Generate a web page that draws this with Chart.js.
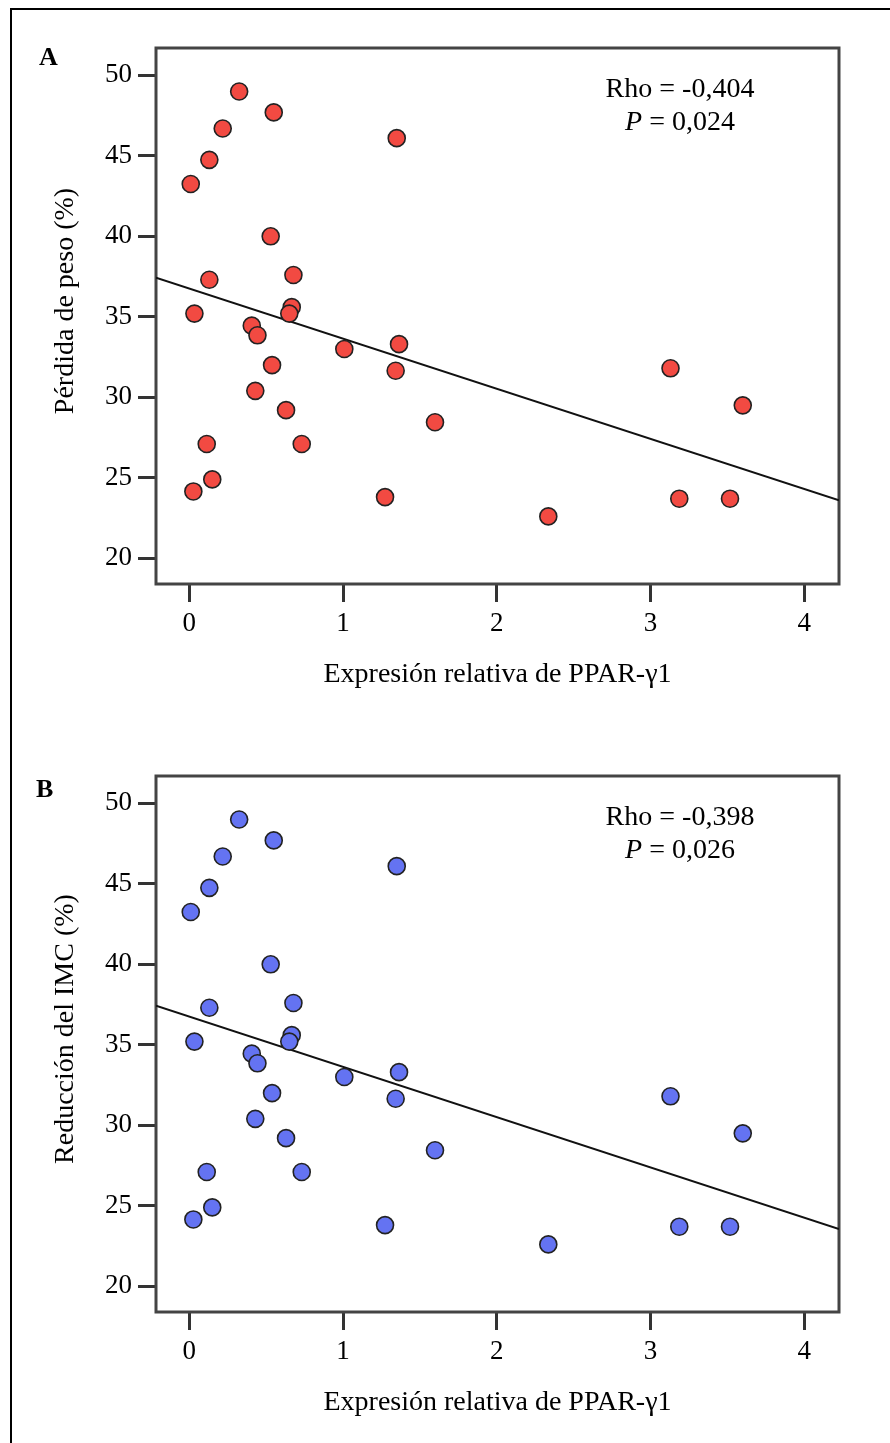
<!DOCTYPE html>
<html>
<head>
<meta charset="utf-8">
<script src="https://cdn.jsdelivr.net/npm/chart.js@4.4.1/dist/chart.umd.min.js"></script>
<style>
  html, body { margin: 0; padding: 0; background: #fff; overflow: hidden; }
  #wrap { position: relative; width: 890px; height: 1443px; overflow: hidden; }
  #frame { position: absolute; left: 10px; top: 8px; width: 900px; height: 1460px;
           border-left: 2px solid #000; border-top: 2px solid #000; }
  canvas { position: absolute; left: 0; }
</style>
</head>
<body>
<div id="wrap">
  <div id="frame"></div>
  <canvas id="chartA" width="890" height="728" style="top:0"></canvas>
  <canvas id="chartB" width="890" height="728" style="top:728px"></canvas>
</div>
<script>
// ejes
const xTicks = [0, 1, 2, 3, 4];
const yTicks = [20, 25, 30, 35, 40, 45, 50];
const xMin = -0.217, xMax = 4.226;
const yMin = 18.4, yMax = 51.7;

// expresion relativa de PPAR-y1 (misma para ambos paneles)
const pparA = [0.324, 0.549, 0.217, 0.130, 0.009, 1.349, 0.529, 0.677, 0.130, 0.666, 0.650,
               0.033, 0.406, 0.443, 1.008, 1.364, 1.342, 0.538, 0.429, 0.629, 1.598, 0.113,
               0.731, 0.149, 0.026, 1.273, 2.335, 3.130, 3.187, 3.517, 3.600];
const pesoA = [49.0, 47.7, 46.7, 44.75, 43.25, 46.1, 40.0, 37.6, 37.3, 35.6, 35.2,
               35.2, 34.45, 33.85, 33.0, 33.3, 31.65, 32.0, 30.4, 29.2, 28.45, 27.1,
               27.1, 24.9, 24.15, 23.8, 22.6, 31.8, 23.7, 23.7, 29.5];

const pparB = [0.324, 0.549, 0.217, 0.130, 0.009, 1.349, 0.529, 0.677, 0.130, 0.666, 0.650,
               0.033, 0.406, 0.443, 1.008, 1.364, 1.342, 0.538, 0.429, 0.629, 1.598, 0.113,
               0.731, 0.149, 0.026, 1.273, 2.335, 3.130, 3.187, 3.517, 3.600];
const imcB  = [49.0, 47.7, 46.7, 44.75, 43.25, 46.1, 40.0, 37.6, 37.3, 35.6, 35.2,
               35.2, 34.45, 33.85, 33.0, 33.3, 31.65, 32.0, 30.4, 29.2, 28.45, 27.1,
               27.1, 24.9, 24.15, 23.8, 22.6, 31.8, 23.7, 23.7, 29.5];

const fitX  = [xMin, xMax];
const fitYA = [37.43, 23.6];
const fitYB = [37.43, 23.55];

const SERIF = '"Liberation Serif", "Times New Roman", serif';
Chart.defaults.font.family = SERIF;
Chart.defaults.color = '#000';

const panelDeco = {
  id: 'panelDeco',
  beforeDatasetsDraw(chart, args, o) {
    const { ctx, chartArea: a } = chart;
    ctx.save();
    ctx.strokeStyle = '#444';
    ctx.lineWidth = 3;
    ctx.strokeRect(a.left, a.top, a.right - a.left, a.bottom - a.top);
    ctx.restore();
  },
  afterDraw(chart, args, o) {
    const ctx = chart.ctx;
    ctx.save();
    ctx.fillStyle = '#000';

    // letra del panel
    ctx.font = 'bold 26px ' + SERIF;
    ctx.textAlign = 'left';
    ctx.textBaseline = 'alphabetic';
    ctx.fillText(o.letter, o.letterX, o.letterY);

    // Rho y P
    ctx.font = '28px ' + SERIF;
    ctx.textAlign = 'center';
    ctx.fillText(o.rho, 680, 97);
    ctx.font = 'italic 28px ' + SERIF;
    const wP = ctx.measureText('P').width;
    ctx.font = '28px ' + SERIF;
    const rest = ' = ' + o.p;
    const wR = ctx.measureText(rest).width;
    const x0 = 680 - (wP + wR) / 2;
    ctx.textAlign = 'left';
    ctx.font = 'italic 28px ' + SERIF;
    ctx.fillText('P', x0, 130);
    ctx.font = '28px ' + SERIF;
    ctx.fillText(rest, x0 + wP, 130);

    // titulo eje y
    ctx.translate(66, 301);
    ctx.rotate(-Math.PI / 2);
    ctx.textAlign = 'center';
    ctx.textBaseline = 'middle';
    ctx.fillText(o.yTitle, 0, 0);
    ctx.restore();
  }
};

function makePanel(id, xs, ys, fitY, color, deco) {
  const pts = xs.map((x, i) => ({ x: x, y: ys[i] }));
  const line = fitX.map((x, i) => ({ x: x, y: fitY[i] }));
  const tickGrid = {
    display: true, drawOnChartArea: false, drawTicks: true,
    tickLength: 18, tickWidth: 3, tickColor: '#333'
  };
  return new Chart(document.getElementById(id), {
    type: 'scatter',
    data: {
      datasets: [
        { type: 'line', data: line, borderColor: '#111', borderWidth: 2,
          pointRadius: 0, fill: false, order: 1 },
        { data: pts, backgroundColor: color, borderColor: '#222', borderWidth: 1.6,
          pointRadius: 8.5, order: 0 }
      ]
    },
    options: {
      responsive: false,
      animation: false,
      events: [],
      layout: { padding: { left: 0, top: 48, right: 51, bottom: 0 } },
      plugins: { legend: { display: false }, tooltip: { enabled: false }, panelDeco: deco },
      scales: {
        x: {
          type: 'linear', min: xMin, max: xMax,
          afterBuildTicks: s => { s.ticks = xTicks.map(v => ({ value: v })); },
          afterFit: s => { s.height = 728 - 584; },
          grid: tickGrid,
          border: { display: false },
          ticks: { font: { size: 27 }, padding: 6, color: '#000', maxRotation: 0 },
          title: { display: true, text: 'Expresión relativa de PPAR-γ1',
                   font: { size: 28 }, color: '#000', padding: { top: 0, bottom: 37 } }
        },
        y: {
          type: 'linear', min: yMin, max: yMax,
          afterBuildTicks: s => { s.ticks = yTicks.map(v => ({ value: v })); },
          afterFit: s => { s.width = 156; },
          grid: tickGrid,
          border: { display: false },
          ticks: { font: { size: 27 }, padding: 6, color: '#000' }
        }
      }
    },
    plugins: [panelDeco]
  });
}

makePanel('chartA', pparA, pesoA, fitYA, '#f24a42', {
  letter: 'A', letterX: 39, letterY: 65,
  rho: 'Rho = -0,404', p: '0,024', yTitle: 'Pérdida de peso (%)'
});
makePanel('chartB', pparB, imcB, fitYB, '#6473f2', {
  letter: 'B', letterX: 36, letterY: 69,
  rho: 'Rho = -0,398', p: '0,026', yTitle: 'Reducción del IMC (%)'
});
</script>
</body>
</html>
